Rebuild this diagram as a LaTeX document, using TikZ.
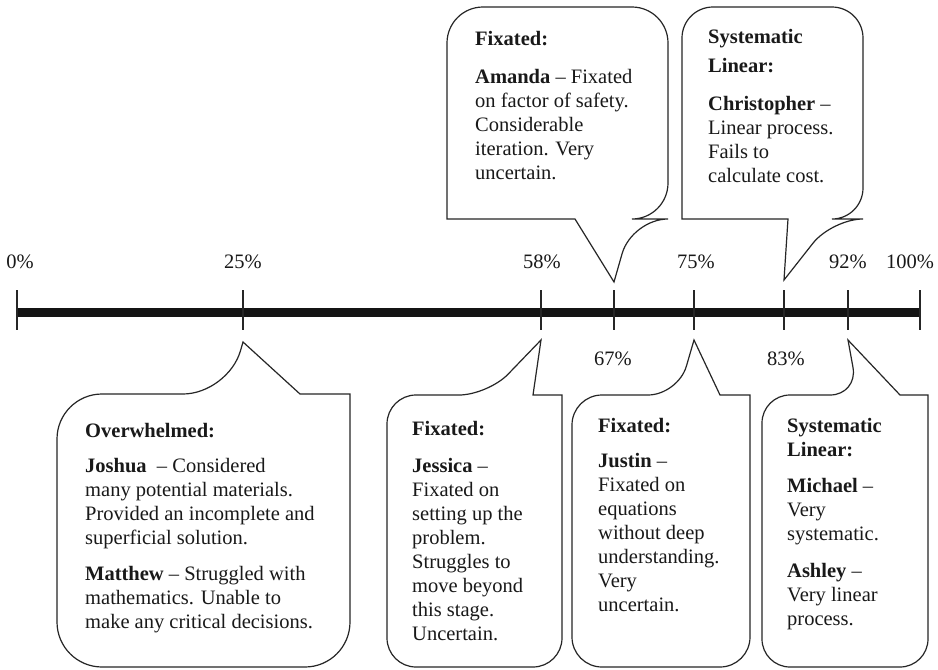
\documentclass[tikz,border=0pt]{standalone}
\usepackage{fontspec}
\setmainfont{Liberation Serif}
\begin{document}
\begin{tikzpicture}[x=1pt,y=-1pt,
  bubble/.style={draw=black!85, line width=1.2pt, line join=miter},
  txt/.style={font=\fontsize{20.5}{24}\selectfont, align=left, inner sep=0pt, anchor=north west, text=black!90},
  pct/.style={font=\fontsize{20.5}{24}\selectfont, inner sep=0pt, anchor=base, text=black!90},
  tickmark/.style={draw=black!85, line width=1.3pt},
  axisline/.style={draw=black!92, line width=9pt}]
\useasboundingbox (0,0) rectangle (938,670);
\fill[white] (0,0) rectangle (938,670);

% axis
\coordinate (p0) at (17,312);
\coordinate (p25) at (243,312);
\coordinate (p58) at (541,312);
\coordinate (p67) at (614,312);
\coordinate (p75) at (694,312);
\coordinate (p83) at (784,312);
\coordinate (p92) at (848,312);
\coordinate (p100) at (920,312);
\draw[axisline] (p0) -- (p100);
\foreach \p in {p0,p25,p58,p67,p75,p83,p92,p100}
  \draw[tickmark] (\p) ++(0,-22) -- ++(0,40);

% percent labels
\node[pct] (l0) at (20,268) {0\%};
\node[pct] (l25) at (243,268) {25\%};
\node[pct] (l58) at (542,268) {58\%};
\node[pct] (l75) at (696,268) {75\%};
\node[pct] (l92) at (848,268) {92\%};
\node[pct] (l100) at (910,268) {100\%};
\node[pct] (l67) at (613,365) {67\%};
\node[pct] (l83) at (786,365) {83\%};

% tips
\coordinate (tOver) at (243,342);
\coordinate (tJess) at (541,340);
\coordinate (tJust) at (694,340);
\coordinate (tMich) at (848,340);
\coordinate (tAman) at (614,282);
\coordinate (tChri) at (784,280);

% bottom callouts
\draw[bubble] (350,530) [rounded corners=45pt] -- (350,667) -- (57,667) -- (57,394) -- (228,394)
  [sharp corners] -- (tOver) -- (300,394) -- (350,394) [rounded corners=45pt] -- (350,530);
\draw[bubble] (562,530) [rounded corners=29pt] -- (562,667) -- (387,667) -- (387,395) -- (488,395)
  [sharp corners] -- (tJess) -- (533,395) -- (562,395) [rounded corners=29pt] -- (562,530);
\draw[bubble] (750,530) [rounded corners=30pt] -- (750,667) -- (572,667) -- (572,395) -- (678,395)
  [sharp corners] -- (tJust) -- (720,395) -- (750,395) [rounded corners=30pt] -- (750,530);
\draw[bubble] (928,530) [rounded corners=28pt] -- (928,667) -- (762,667) -- (762,395) -- (858,395)
  [sharp corners] -- (tMich) -- (900,395) -- (928,395) [rounded corners=28pt] -- (928,530);

% top callouts
\draw[bubble] (447,110) [rounded corners=36pt] -- (447,7) -- (668,7) -- (668,219) -- (632,219)
  [sharp corners] -- (tAman) -- (575,219) -- (447,219) [rounded corners=36pt] -- (447,110);
\draw[bubble] (682,110) [rounded corners=31pt] -- (682,7) -- (863,7) -- (863,219) -- (832,219)
  [sharp corners] -- (tChri) -- (788,219) -- (682,219) [rounded corners=31pt] -- (682,110);

% texts
\node[txt] (xOver) at (85,423) {\textbf{Overwhelmed:}\\[11pt]
\textbf{Joshua}\ \ – Considered\\
many potential materials.\\
Provided an incomplete and\\
superficial solution.\\[12pt]
\textbf{Matthew} – Struggled with\\
mathematics. Unable to\\
make any critical decisions.};

\node[txt] (xJess) at (412,421) {\textbf{Fixated:}\\[13pt]
\textbf{Jessica} –\\
Fixated on\\
setting up the\\
problem.\\
Struggles to\\
move beyond\\
this stage.\\
Uncertain.};

\node[txt] (xJust) at (598,418) {\textbf{Fixated:}\\[11pt]
\textbf{Justin} –\\
Fixated on\\
equations\\
without deep\\
understanding.\\
Very\\
uncertain.};

\node[txt] (xMich) at (787,418) {\textbf{Systematic}\\
\textbf{Linear:}\\[12pt]
\textbf{Michael} –\\
Very\\
systematic.\\[13pt]
\textbf{Ashley} –\\
Very linear\\
process.};

\node[txt] (xAman) at (475,31) {\textbf{Fixated:}\\[14pt]
\textbf{Amanda} – Fixated\\
on factor of safety.\\
Considerable\\
iteration. Very\\
uncertain.};

\node[txt] (xChri) at (708,29) {\textbf{Systematic}\\[5pt]
\textbf{Linear:}\\[14pt]
\textbf{Christopher} –\\
Linear process.\\
Fails to\\
calculate cost.};
\end{tikzpicture}
\end{document}
